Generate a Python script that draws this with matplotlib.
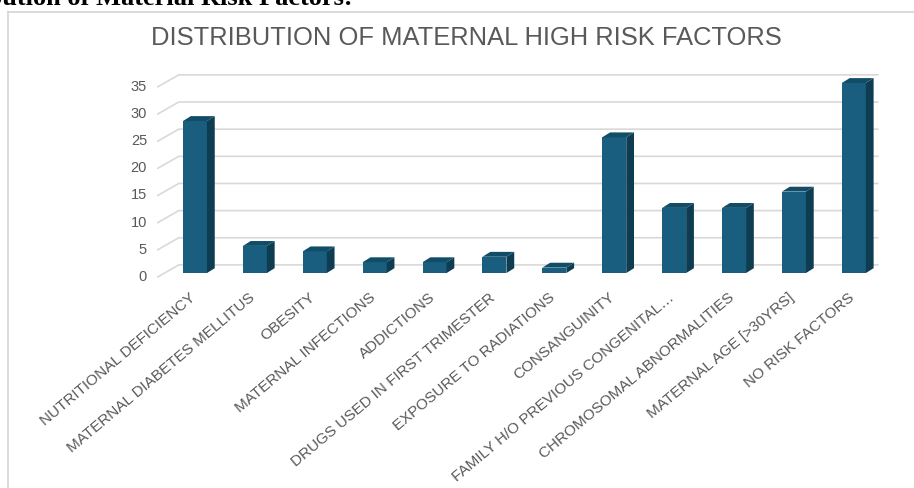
import matplotlib
matplotlib.use("Agg")
import matplotlib.pyplot as plt
from matplotlib.patches import Polygon, Rectangle
from matplotlib.lines import Line2D

# data
categories = [
    "NUTRITIONAL DEFICIENCY",
    "MATERNAL DIABETES MELLITUS",
    "OBESITY",
    "MATERNAL INFECTIONS",
    "ADDICTIONS",
    "DRUGS USED IN FIRST TRIMESTER",
    "EXPOSURE TO RADIATIONS",
    "CONSANGUINITY",
    "FAMILY H/O PREVIOUS CONGENITAL\u2026",
    "CHROMOSOMAL ABNORMALITIES",
    "MATERNAL AGE [>30YRS]",
    "NO RISK FACTORS",
]
counts = [28, 5, 4, 2, 2, 3, 1, 25, 12, 12, 15, 35]
y_ticks = [0, 5, 10, 15, 20, 25, 30, 35]

title = "DISTRIBUTION OF MATERNAL HIGH RISK FACTORS"
caption = "Distribution of Material Risk Factors:"

# colours
front_col = "#195e7e"
side_col = "#0e3d52"
top_col = "#124d68"
grid_col = "#d9d9d9"
text_col = "#595959"

# pseudo-3d geometry (data units)
bar_w = 0.40
depth_x = 0.13
depth_y = 0.9

fig = plt.figure(figsize=(9.14, 4.88), dpi=100)
ax = fig.add_axes([0.1478, 0.4182, 0.8257, 0.4451])
ax.set_xlim(-1, 11.6)
ax.set_ylim(-2, 38)
ax.axis("off")

# back wall gridlines with the little floor stub + y labels
for v in y_ticks:
    ax.plot([-0.62, -0.27, 11.4], [v - 0.7, v + 1.5, v + 1.5],
            color=grid_col, lw=1.2, zorder=1, clip_on=False)
    ax.text(-0.8, v - 0.7, str(v), ha="right", va="center",
            fontsize=10.5, color=text_col, family="Liberation Sans")

# bars
for i, v in enumerate(counts):
    x0 = i - bar_w / 2
    x1 = i + bar_w / 2
    ax.add_patch(Rectangle((x0, 0), bar_w, v, facecolor=front_col,
                           edgecolor="none", zorder=3))
    ax.add_patch(Polygon([(x1, 0), (x1 + depth_x, depth_y),
                          (x1 + depth_x, v + depth_y), (x1, v)],
                         closed=True, facecolor=side_col, edgecolor="none", zorder=3))
    ax.add_patch(Polygon([(x0, v), (x0 + depth_x, v + depth_y),
                          (x1 + depth_x, v + depth_y), (x1, v)],
                         closed=True, facecolor=top_col, edgecolor="none", zorder=3))

# category labels
for i, lab in enumerate(categories):
    ax.text(i - 0.1, -3.2, lab, rotation=40, rotation_mode="anchor",
            ha="right", va="top", fontsize=11, color=text_col,
            family="Liberation Sans")

fig.text(0.51, 1 - 38 / 488, title, ha="center", va="center",
         fontsize=18.4, color=text_col, family="Liberation Sans")

# chart frame (left and top edge visible)
fig.add_artist(Line2D([8 / 914, 8 / 914], [0, 1 - 12 / 488],
                      transform=fig.transFigure, color="#d4d4d4", lw=1.2))
fig.add_artist(Line2D([8 / 914, 1], [1 - 12 / 488, 1 - 12 / 488],
                      transform=fig.transFigure, color="#d4d4d4", lw=1.2))

# cropped caption from the page above
fig.text(-77 / 914, 1 - 5 / 488, caption, ha="left", va="baseline",
         fontsize=19, fontweight="bold", family="Liberation Serif", color="black")

fig.savefig("out.png", dpi=100)
